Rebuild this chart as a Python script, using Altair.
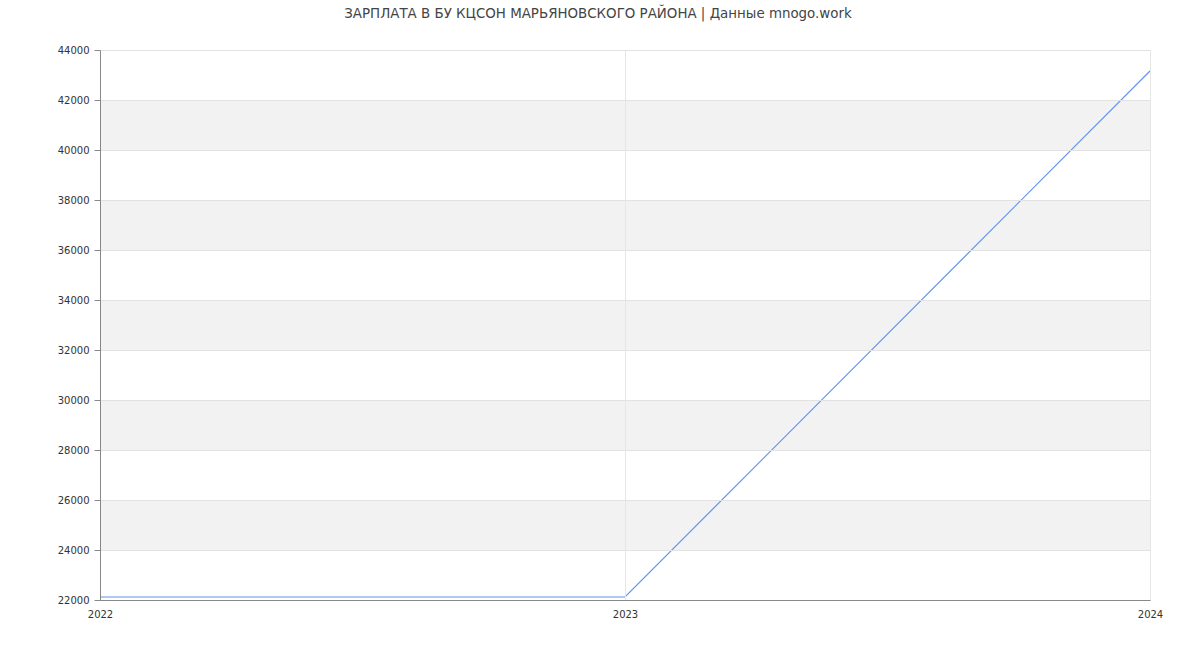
import altair as alt
import pandas as pd

years = [2022, 2023, 2024]
salary = [22120, 22120, 43160]
band_starts = [24000, 28000, 32000, 36000, 40000]
band_ends = [26000, 30000, 34000, 38000, 42000]
title_text = "ЗАРПЛАТА В БУ КЦСОН МАРЬЯНОВСКОГО РАЙОНА | Данные mnogo.work"

df = pd.DataFrame({"year": years, "salary": salary})
bands = pd.DataFrame({"y0": band_starts, "y1": band_ends,
                      "x0": [years[0]] * len(band_starts),
                      "x1": [years[-1]] * len(band_starts)})

xscale = alt.Scale(domain=[2022, 2024], nice=False, zero=False)
yscale = alt.Scale(domain=[22000, 44000], nice=False, zero=False)

xaxis = alt.Axis(tickCount=2, format="d", grid=True, gridColor="#e6e6e6",
                 ticks=False, labelPadding=9, domainColor="#888888",
                 labelFontSize=10, labelColor="#333333", zindex=1,
                 labelFlush=False, labelOverlap=False, labelAlign="center",
                 labelFont="DejaVu Sans")
yaxis = alt.Axis(tickCount=11, format="d", grid=True, gridColor="#e2e2e2",
                 tickSize=6, tickColor="#888888", domainColor="#888888",
                 labelPadding=5, labelFontSize=10, labelColor="#333333",
                 labelFlush=False, labelOverlap=False,
                 zindex=1, labelFont="DejaVu Sans")

band_layer = alt.Chart(bands).mark_rect(color="#f2f2f2").encode(
    x=alt.X("x0:Q", scale=xscale, axis=xaxis, title=None),
    x2="x1:Q",
    y=alt.Y("y0:Q", scale=yscale, axis=yaxis, title=None),
    y2="y1:Q",
)

line = alt.Chart(df).mark_line(color="#6393ea", strokeWidth=1.2).encode(
    x=alt.X("year:Q", scale=xscale, title=None, axis=xaxis),
    y=alt.Y("salary:Q", scale=yscale, title=None, axis=yaxis),
)

chart = alt.layer(band_layer, line).properties(
    width=1050, height=550,
    title=alt.TitleParams(title_text, font="DejaVu Sans", fontSize=13.4, fontWeight="normal",
                          color="#444444", anchor="middle", offset=25, dx=-27),
    autosize=alt.AutoSizeParams(type="none"),
    padding={"left": 100, "top": 50, "right": 50, "bottom": 50},
).configure_view(stroke=None).configure(background="white")

chart.save("out.html", embed_options={"renderer": "svg", "actions": False})
